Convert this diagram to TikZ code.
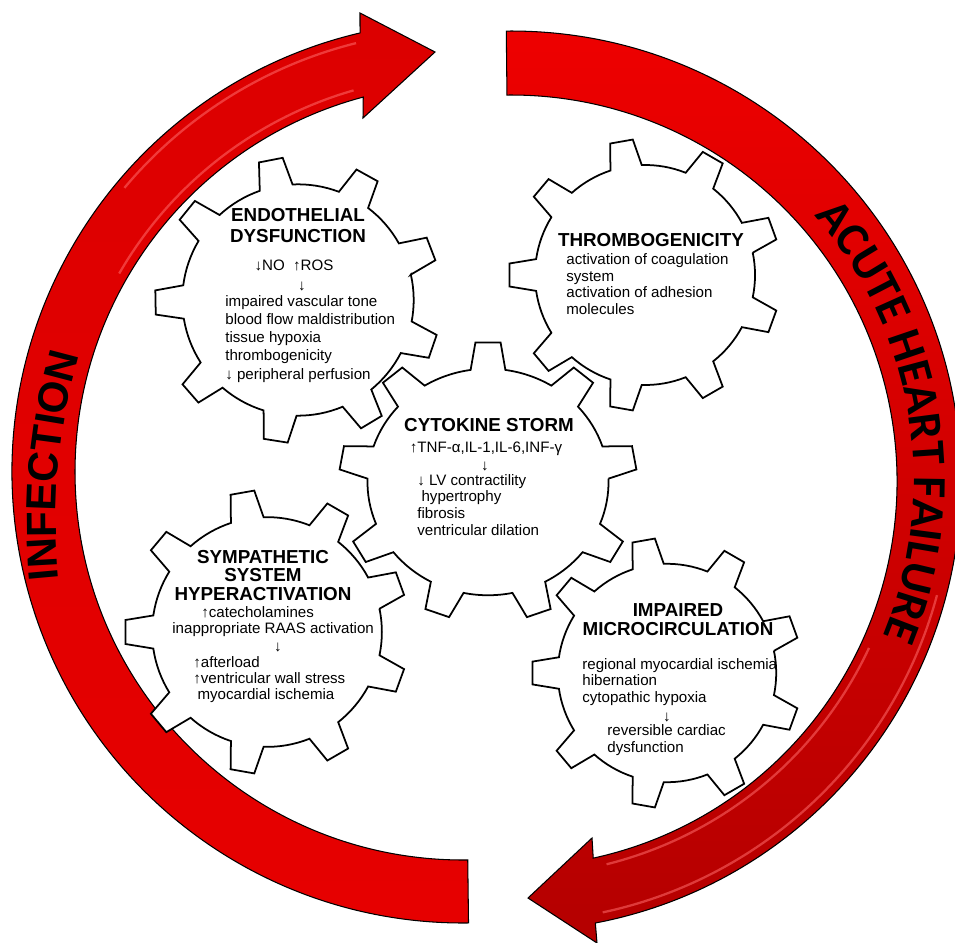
\documentclass[tikz,border=0pt]{standalone}
\usepackage{fontspec}
\setmainfont{Liberation Sans}
\newfontfamily\calfont{Carlito}
\usetikzlibrary{decorations.text}

\definecolor{bandtop}{HTML}{DC0000}
\definecolor{bandmid}{HTML}{EE0000}
\definecolor{bandlow}{HTML}{E60000}
\definecolor{banddark}{HTML}{B40000}
\definecolor{glintred}{HTML}{FF6A6A}

\newcommand{\infectfont}{\bfseries\fontsize{24}{24}\selectfont}
\newcommand{\failfont}{\calfont\bfseries\fontsize{27}{27}\selectfont}

% one nine-tooth cog: options, centre x, centre y, x radius, y radius, first tooth angle
\newcommand{\cogpath}[6]{%
  \begin{scope}[shift={(#2,#3)}, xscale=#4, yscale=#5]
    \path[#1] ({#6-8.3}:0.809) \foreach \k in {0,...,8}{
      -- ({#6+40*\k-4.85}:1) -- ({#6+40*\k+4.85}:1) -- ({#6+40*\k+8.3}:0.809)
      arc[start angle={#6+40*\k+8.3}, end angle={#6+40*\k+31.7}, radius=0.809]} -- cycle;
  \end{scope}}

\tikzset{
  band/.style={draw=black, line width=0.6pt, line join=miter},
  glint/.style={draw=glintred, line width=1.3pt, opacity=0.55},
  gearhead/.style={font=\bfseries\fontsize{10.7}{#1}\selectfont, align=center, inner sep=0pt},
  gearhead/.default=11.4,
  gearbody/.style={font=\fontsize{8.6}{#1}\selectfont, align=left, inner sep=0pt},
  gearbody/.default=9.3,
}

\begin{document}
\begin{tikzpicture}[x=0.02cm, y=0.02cm]
  \useasboundingbox (0,0) rectangle (955,-942);
  \clip (0,0) rectangle (955,-942);

  \coordinate (lc) at (463,-472);
  \coordinate (rc) at (511,-481);
  \coordinate (tc) at (650,-520);

  % infection arrow, left half
  \draw[band, top color=bandtop, middle color=bandmid, bottom color=bandlow]
    ([shift={(270.7:388)}]lc) arc[start angle=270.7, end angle=104.9, radius=388]
    -- (363,-118) -- (435,-52) -- (360,-13)
    -- ([shift={(103.2:451)}]lc) arc[start angle=103.2, end angle=270.7, radius=451] -- cycle;
  \draw[glint] ([shift={(150:397)}]lc) arc[start angle=150, end angle=106, radius=397];
  \draw[glint] ([shift={(140:442)}]lc) arc[start angle=140, end angle=104, radius=442];

  % heart failure arrow, right half
  \draw[band, top color=bandmid, middle color=bandlow, bottom color=banddark]
    ([shift={(90.6:450)}]rc) arc[start angle=90.6, end angle=-79.2, radius=450]
    -- (597,-943) -- (528,-898) -- (592,-838)
    -- ([shift={(-77.7:386)}]rc) arc[start angle=-77.7, end angle=90.6, radius=386] -- cycle;
  \draw[glint] ([shift={(-25:395)}]rc) arc[start angle=-25, end angle=-76, radius=395];
  \draw[glint] ([shift={(-15:441)}]rc) arc[start angle=-15, end angle=-78, radius=441];

  % lettering along the bands
  \path[decorate, decoration={text along path, text align=center,
      text={|\infectfont|INFECTION}}]
    ([shift={(204.8:594)}]tc) arc[start angle=204.8, end angle=144.8, radius=594];
  \path[decorate, decoration={text along path, text align=center,
      text={|\failfont|ACUTE HEART FAILURE}}]
    ([shift={(64.25:403)}]rc) arc[start angle=64.25, end angle=-45.75, radius=403];

  % cogs: white bodies first, outlines on top
  \foreach \cx/\cy/\rx/\ry/\off in {298/-300/143/143/21, 645/-275/136/136/20,
      267/-632/142/142/20, 667/-673/135/135/20, 488/-482/149/140/10}
    \cogpath{fill=white}{\cx}{\cy}{\rx}{\ry}{\off};
  \foreach \cx/\cy/\rx/\ry/\off in {298/-300/143/143/21, 645/-275/136/136/20,
      267/-632/142/142/20, 667/-673/135/135/20, 488/-482/149/140/10}
    \cogpath{draw=black, line width=1pt}{\cx}{\cy}{\rx}{\ry}{\off};

  % endothelial dysfunction (multi-line nodes sit on their last baseline)
  \node[gearhead, anchor=base] (endoT) at (298,-242) {ENDOTHELIAL\\DYSFUNCTION};
  \node[gearbody, anchor=base] (endoA) at (294,-270) {↓NO\ \ ↑ROS};
  \node[gearbody, anchor=base] (endoB) at (302,-290) {↓};
  \node[gearbody=10.25, anchor=base west] (endoC) at (225,-379)
    {impaired vascular tone\\blood flow maldistribution\\tissue hypoxia\\thrombogenicity\\↓ peripheral perfusion};

  % thrombogenicity
  \node[gearhead, anchor=base] (thrT) at (651,-247) {THROMBOGENICITY};
  \node[gearbody=9.3, anchor=base west] (thrB) at (566,-314)
    {activation of coagulation\\system\\activation of adhesion\\molecules};

  % cytokine storm
  \node[gearhead, anchor=base] (cytT) at (489,-431) {CYTOKINE STORM};
  \node[gearbody, anchor=base] (cytA) at (486,-452) {↑TNF-α,IL-1,IL-6,INF-γ};
  \node[gearbody, anchor=base] (cytB) at (485,-470) {↓};
  \node[gearbody=9.4, anchor=base west] (cytC) at (417,-535)
    {↓ LV contractility\\\ hypertrophy\\fibrosis\\ventricular dilation};

  % sympathetic system hyperactivation
  \node[gearhead=10.4, anchor=base] (symT) at (263,-600) {SYMPATHETIC\\SYSTEM\\HYPERACTIVATION};
  \node[gearbody, anchor=base west] (symA) at (201,-617) {↑catecholamines};
  \node[gearbody, anchor=base west] (symB) at (172,-633) {inappropriate RAAS activation};
  \node[gearbody, anchor=base] (symC) at (278,-651) {↓};
  \node[gearbody=9.1, anchor=base west] (symD) at (193,-699)
    {↑afterload\\↑ventricular wall stress\\\ myocardial ischemia};

  % impaired microcirculation
  \node[gearhead=10.8, anchor=base] (impT) at (678,-635) {IMPAIRED\\MICROCIRCULATION};
  \node[gearbody=9.2, anchor=base west] (impA) at (582,-702)
    {regional myocardial ischemia\\hibernation\\cytopathic hypoxia};
  \node[gearbody, anchor=base] (impB) at (667,-721) {↓};
  \node[gearbody=9.4, anchor=base west] (impC) at (607,-752) {reversible cardiac\\dysfunction};
\end{tikzpicture}
\end{document}
